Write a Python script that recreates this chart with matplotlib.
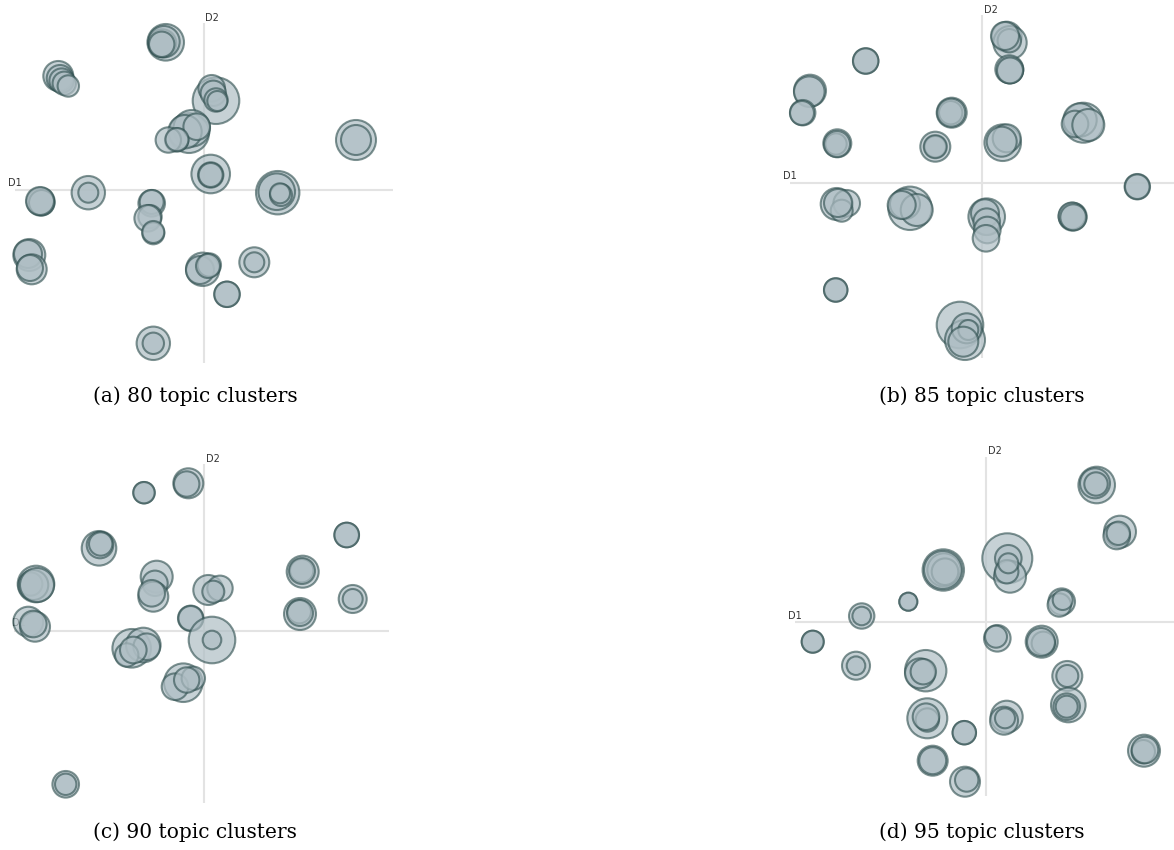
import matplotlib
matplotlib.use("Agg")
import matplotlib.pyplot as plt
from matplotlib.patches import Circle

# ---- topic positions on the first two dimensions (D1, D2) and circle radii ----

# (a) 80 topic clusters
a_d1 = [-38.3, -41.7, -40.0, -42.3,
        -145.7, -144.0, -142.3, -139.7, -135.7,
        12.0, 7.7, 9.3, 12.0, 13.3,
        -15.0, -12.3, -19.0, -27.3, -35.7, -7.3, -27.0,
        6.7, 6.7, 6.7,
        152.0, 152.0,
        73.7, 72.7, 77.0, 76.0,
        -163.3, -162.3, -164.0,
        -115.7, -115.7,
        -52.3, -52.3, -54.0, -56.3, -50.7, -50.7,
        -174.7, -176.0, -172.3, -174.0,
        -1.3, -4.0, 5.3, 4.0,
        50.3, 50.3,
        23.0, 23.0,
        -50.7, -50.7]
a_d2 = [147.7, 146.7, 148.3, 145.7,
        114.0, 111.7, 109.3, 106.7, 104.0,
        89.3, 101.7, 96.7, 90.0, 89.0,
        57.0, 61.7, 58.3, 50.0, 50.0, 63.3, 50.5,
        16.0, 15.0, 15.0,
        50.0, 50.0,
        -2.7, -1.7, -5.0, -3.3,
        -11.7, -12.7, -11.0,
        -2.7, -2.7,
        -13.3, -12.0, -26.7, -28.3, -43.3, -42.0,
        -65.0, -64.0, -79.3, -78.0,
        -79.3, -80.0, -75.0, -76.0,
        -72.3, -72.3,
        -104.3, -104.3,
        -153.3, -153.3]
a_r = [18.3, 14.0, 15.7, 12.7,
       15.0, 13.3, 12.3, 11.7, 10.7,
       23.3, 13.3, 12.7, 11.7, 10.0,
       20.0, 18.3, 16.7, 11.7, 12.7, 13.3, 11.5,
       19.3, 12.7, 12.0,
       20.0, 15.0,
       21.7, 18.3, 11.0, 10.0,
       14.0, 12.7, 14.0,
       16.7, 10.0,
       13.3, 12.0, 11.7, 13.3, 11.0, 11.0,
       16.0, 14.0, 15.0, 13.0,
       16.7, 14.0, 11.7, 12.0,
       15.0, 10.0,
       12.7, 12.7,
       16.7, 10.7]

# (b) 85 topic clusters
b_d1 = [24.7, 28.0, 27.3, 23.0,
        28.0, 27.3, 28.0,
        -116.3, -116.3,
        -172.0, -172.7,
        -179.3, -180.0,
        -30.3, -31.3, -30.8,
        -144.7, -146.0, -145.0,
        -46.7, -46.7, -46.7,
        20.7, 24.7, 19.7,
        101.3, 98.0, 93.0, 106.3,
        155.3, 155.3,
        -145.3, -135.3, -140.3, -144.0,
        -72.0, -77.0, -65.3, -80.3,
        4.7, 3.0, 4.7, 5.3, 4.0,
        90.7, 90.0, 91.3,
        -146.3, -146.3,
        -22.0, -17.0, -15.3, -13.7, -18.7]
b_d2 = [146.3, 140.3, 142.3, 147.0,
        113.0, 113.7, 112.5,
        122.0, 122.0,
        92.3, 91.3,
        70.3, 70.0,
        70.3, 70.3, 70.3,
        39.7, 39.0, 39.0,
        36.3, 36.3, 36.3,
        40.3, 44.7, 41.3,
        60.3, 63.0, 59.0, 58.0,
        -3.7, -3.7,
        -21.0, -20.3, -27.7, -20.0,
        -25.3, -21.0, -27.0, -22.0,
        -33.7, -30.3, -38.7, -47.0, -55.3,
        -33.7, -33.0, -34.3,
        -107.0, -107.0,
        -142.0, -157.0, -145.3, -147.0, -158.7]
b_r = [15.0, 16.7, 11.7, 14.0,
       13.3, 14.0, 13.0,
       12.7, 12.7,
       16.0, 15.3,
       12.7, 12.0,
       15.0, 11.7, 14.0,
       14.0, 10.7, 13.0,
       15.0, 10.7, 11.5,
       18.3, 14.0, 15.0,
       20.0, 16.7, 13.3, 16.0,
       12.7, 12.3,
       16.0, 13.3, 11.0, 14.0,
       21.7, 15.0, 16.0, 14.0,
       18.3, 14.0, 13.3, 13.3, 13.3,
       14.0, 13.5, 13.0,
       11.7, 11.7,
       23.3, 20.0, 15.0, 10.0, 15.0]

# (c) 90 topic clusters
c_d1 = [-15.7, -17.3,
        -60.0, -60.0,
        142.7, 142.7,
        -105.0, -104.0, -103.3,
        -168.0, -173.3, -170.7, -167.0,
        -47.3, -49.0, -50.7, -52.3,
        4.3, 16.0, 9.3,
        98.7, 97.7, 98.0,
        148.7, 148.7,
        96.0, 95.3, 96.0,
        -13.3, -13.3,
        8.0, 8.0,
        -175.7, -169.0, -170.7,
        -72.3, -60.7, -57.3, -77.3, -70.7,
        -20.7, -29.0, -10.7, -17.3,
        -138.3, -138.3]
c_d2 = [147.2, 146.5,
        137.8, 137.8,
        95.5, 95.5,
        82.2, 85.5, 86.5,
        46.5, 46.5, 45.5, 45.5,
        53.8, 47.2, 33.8, 37.2,
        40.5, 42.2, 38.8,
        58.8, 59.8, 59.5,
        31.5, 31.5,
        16.5, 18.8, 17.5,
        12.2, 12.2,
        -9.5, -9.5,
        8.8, 3.8, 6.5,
        -17.8, -14.5, -16.2, -24.5, -19.5,
        -52.2, -56.2, -47.8, -49.5,
        -153.8, -153.8]
c_r = [15.0, 12.7,
       10.7, 10.7,
       12.3, 12.3,
       17.3, 13.3, 11.7,
       18.3, 11.7, 15.0, 17.0,
       16.0, 12.7, 15.0, 13.3,
       15.0, 12.7, 11.0,
       16.0, 11.7, 13.0,
       14.0, 10.0,
       16.0, 11.7, 13.0,
       12.7, 12.3,
       23.3, 9.3,
       15.0, 15.0, 13.3,
       19.3, 17.3, 13.3, 11.7, 13.3,
       19.3, 13.3, 11.7, 12.7,
       13.3, 10.7]

# (d) 95 topic clusters
d_d1 = [110.7, 109.0, 110.0,
        134.0, 130.7, 132.3,
        -42.7, -42.0, -41.0, -43.0,
        21.3, 22.3, 24.0, 20.7, 22.3,
        -77.7, -77.7,
        -124.3, -124.3,
        75.7, 73.3, 76.7,
        -173.3, -173.3,
        11.3, 10.0,
        55.7, 57.3, 55.0,
        -130.0, -130.0,
        -60.3, -66.0, -62.7,
        81.3, 81.3,
        82.3, 80.7, 80.7,
        -58.7, -58.7, -60.0,
        20.7, 18.0, 19.0,
        -21.7, -21.7,
        -53.3, -53.3,
        -21.0, -19.3,
        158.0, 157.3, 159.0]
d_d2 = [137.0, 138.7, 138.0,
        90.3, 86.0, 88.7,
        52.0, 52.0, 50.3, 52.0,
        63.7, 63.7, 45.3, 50.3, 58.7,
        20.3, 20.3,
        6.0, 6.0,
        20.3, 17.0, 22.0,
        -19.7, -19.7,
        -16.3, -14.7,
        -19.7, -21.3, -20.0,
        -43.7, -43.7,
        -48.7, -51.3, -49.7,
        -54.0, -54.0,
        -83.0, -84.7, -84.7,
        -96.3, -98.0, -94.7,
        -94.7, -98.7, -96.3,
        -110.7, -110.7,
        -138.7, -138.7,
        -159.7, -158.0,
        -128.7, -129.7, -128.0]
d_r = [18.3, 15.0, 11.7,
       16.0, 13.3, 11.7,
       20.7, 16.7, 13.3, 19.0,
       25.0, 13.3, 16.0, 11.7, 10.0,
       9.0, 9.0,
       12.7, 9.3,
       13.3, 11.7, 10.0,
       11.0, 11.0,
       13.3, 11.0,
       16.0, 11.7, 14.0,
       14.0, 9.3,
       20.7, 15.0, 12.7,
       15.0, 11.0,
       17.3, 13.3, 11.0,
       20.0, 11.7, 13.3,
       16.0, 14.0, 10.0,
       11.7, 11.7,
       15.0, 13.5,
       15.0, 11.7,
       16.0, 11.7, 13.3]

captions = ["(a) 80 topic clusters", "(b) 85 topic clusters",
            "(c) 90 topic clusters", "(d) 95 topic clusters"]

# ---- layout (figure pixels) ----
W, H = 1174, 850
FACE = (0.686, 0.745, 0.769, 0.70)
EDGE = (0.184, 0.310, 0.310, 0.62)
AXIS_GREY = "#e3e3e3"

panels = [
    dict(data=(a_d1, a_d2, a_r), box=(0, 0, 400, 370), origin=(204, 190),
         hline=(-189, 189), vline=(-173, 167), d1_lab=(-196, 7.5), d2_lab=(1, 172),
         cap_xy=(195, 396)),
    dict(data=(b_d1, b_d2, b_r), box=(780, 0, 394, 370), origin=(982, 183),
         hline=(-192, 192), vline=(-175, 168), d1_lab=(-199, 7), d2_lab=(2, 173),
         cap_xy=(982, 396)),
    dict(data=(c_d1, c_d2, c_r), box=(0, 440, 400, 375), origin=(204, 630.5),
         hline=(-190, 185), vline=(-172.5, 167), d1_lab=(-192, 7), d2_lab=(2, 172),
         cap_xy=(195, 832)),
    dict(data=(d_d1, d_d2, d_r), box=(780, 430, 394, 385), origin=(986, 622),
         hline=(-191, 188), vline=(-174, 165), d1_lab=(-198, 6), d2_lab=(2, 171.5),
         cap_xy=(982, 832)),
]

fig = plt.figure(figsize=(W / 100, H / 100), dpi=100)

for p, caption in zip(panels, captions):
    x0, y0, w, h = p["box"]
    ox, oy = p["origin"]
    ax = fig.add_axes([x0 / W, 1 - (y0 + h) / H, w / W, h / H])
    ax.set_xlim(x0 - ox, x0 + w - ox)
    ax.set_ylim(oy - (y0 + h), oy - y0)
    ax.set_axis_off()

    # D1 / D2 reference axes
    ax.plot(p["hline"], [0, 0], color=AXIS_GREY, lw=1.5, zorder=0,
            solid_capstyle="butt")
    ax.plot([0, 0], p["vline"], color=AXIS_GREY, lw=1.5, zorder=0,
            solid_capstyle="butt")
    ax.text(*p["d1_lab"], "D1", fontsize=7, color="#333333",
            ha="left", va="center", zorder=1)
    ax.text(*p["d2_lab"], "D2", fontsize=7, color="#333333",
            ha="left", va="center", zorder=1)

    d1, d2, rad = p["data"]
    for xi, yi, ri in zip(d1, d2, rad):
        ax.add_patch(Circle((xi, yi), ri, facecolor=FACE, edgecolor=EDGE,
                            linewidth=1.5, zorder=2, clip_on=False))

    cx, cy = p["cap_xy"]
    fig.text(cx / W, 1 - cy / H, caption, ha="center", va="center",
             fontsize=14.5, family="DejaVu Serif", color="black")

fig.savefig("out.png", dpi=100)
